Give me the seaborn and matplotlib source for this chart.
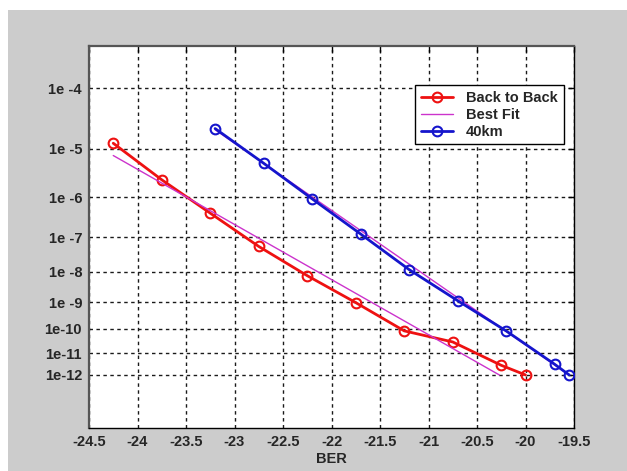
import matplotlib
matplotlib.use("Agg")
import matplotlib.pyplot as plt
from matplotlib.patches import Rectangle
import numpy as np
import pandas as pd
import seaborn as sns

# BER, stored as log10(BER)
b2b_x = [-24.25, -23.75, -23.25, -22.75, -22.25, -21.75, -21.25, -20.75, -20.25, -20.0]
b2b_y = [-4.90, -5.62, -6.38, -7.25, -8.12, -9.02, -10.08, -10.53, -11.55, -12.0]

km40_x = [-23.2, -22.7, -22.2, -21.7, -21.2, -20.7, -20.2, -19.7, -19.55]
km40_y = [-4.64, -5.28, -6.04, -6.91, -7.93, -8.95, -10.08, -11.50, -12.0]

# best fit lines (end points)
fit_b2b_x = [-24.25, -20.27]
fit_b2b_y = [-5.13, -12.0]
fit_40_x = [-23.2, -19.55]
fit_40_y = [-4.66, -12.0]

xticks = [-24.5, -24, -23.5, -23, -22.5, -22, -21.5, -21, -20.5, -20, -19.5]
xticklabels = ["-24.5", "-24", "-23.5", "-23", "-22.5", "-22", "-21.5", "-21", "-20.5", "-20", "-19.5"]
yticks = [-4, -5, -6, -7, -8, -9, -10, -11, -12]
yticklabels = ["1e -4", "1e -5", "1e -6", "1e -7", "1e -8", "1e -9", "1e-10", "1e-11", "1e-12"]

sns.set_theme(style="white")
plt.rcParams["font.family"] = ["Liberation Sans", "DejaVu Sans"]
plt.rcParams["font.weight"] = "bold"


def fwd(y):
    with np.errstate(invalid="ignore", divide="ignore"):
        return -np.log10(-np.asarray(y) - 0.5)


def inv(v):
    return -(10.0 ** (-np.asarray(v)) + 0.5)


b2b = pd.DataFrame({"x": b2b_x, "y": b2b_y})
km40 = pd.DataFrame({"x": km40_x, "y": km40_y})
fit1 = pd.DataFrame({"x": fit_b2b_x, "y": fit_b2b_y})
fit2 = pd.DataFrame({"x": fit_40_x, "y": fit_40_y})

fig = plt.figure(figsize=(6.27, 4.71), dpi=100, facecolor="white")
fig.patches.append(Rectangle((8 / 627, 0), 1, 1 - 10 / 471, transform=fig.transFigure,
                             facecolor="#CCCCCC", edgecolor="none", zorder=-10))
ax = fig.add_axes([89 / 627, 1 - 428 / 471, 485 / 627, 382 / 471])
ax.set_facecolor("white")
ax.set_yscale("function", functions=(fwd, inv))

red = "#EE1111"
blue = "#1515CC"
mag = "#CC33CC"

sns.lineplot(data=b2b, x="x", y="y", ax=ax, color=red, lw=2, marker="o", ms=7,
             mfc="none", mec=red, mew=1.5, sort=False, estimator=None, label="Back to Back", zorder=3)
sns.lineplot(data=fit1, x="x", y="y", ax=ax, color=mag, lw=1, sort=False, estimator=None,
             label="Best Fit", zorder=4)
sns.lineplot(data=km40, x="x", y="y", ax=ax, color=blue, lw=2, marker="o", ms=7,
             mfc="none", mec=blue, mew=1.5, sort=False, estimator=None, label="40km", zorder=3)
sns.lineplot(data=fit2, x="x", y="y", ax=ax, color=mag, lw=1, sort=False, estimator=None,
             zorder=2)

ax.set_xlim(-24.5, -19.5)
ax.set_ylim(-14.83, -3.44)
ax.set_xticks(xticks)
ax.set_xticklabels(xticklabels)
ax.set_yticks(yticks)
ax.set_yticklabels(yticklabels)
ax.minorticks_off()
ax.tick_params(direction="in", length=4, width=1, top=True, right=True,
               labelsize=10.5, pad=5, color="black")
for lab in ax.get_xticklabels() + ax.get_yticklabels():
    lab.set_fontweight("bold")

ax.grid(True, color="#1a1a1a", linestyle=(0, (2.5, 2.5)), lw=1)
ax.set_xlabel("BER", fontsize=10.5, fontweight="bold", labelpad=2)
ax.set_ylabel("")

for side in ["left", "top"]:
    ax.spines[side].set_color("#555555")
    ax.spines[side].set_linewidth(1.6)
for side in ["right", "bottom"]:
    ax.spines[side].set_color("black")
    ax.spines[side].set_linewidth(1)

leg = ax.legend(loc="upper right", bbox_to_anchor=(0.979, 0.898), borderaxespad=0,
                fancybox=False, frameon=True, edgecolor="black", facecolor="white",
                framealpha=1, handlelength=2.2, handletextpad=0.9, labelspacing=0.2,
                prop={"size": 10.5, "weight": "bold"}, borderpad=0.4)
leg.get_frame().set_linewidth(1)

fig.savefig("out.png", dpi=100, facecolor=fig.get_facecolor())
